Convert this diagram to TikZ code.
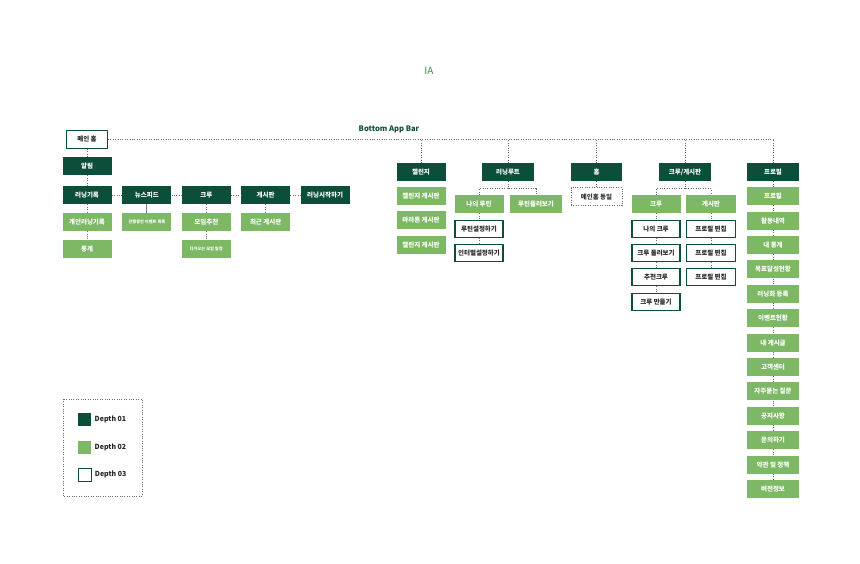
\documentclass[tikz,border=0pt]{standalone}
\usepackage{fontspec}
\setmainfont{Noto Sans CJK KR}
\usepackage{tikz}
\usetikzlibrary{positioning}
\definecolor{deepgreen}{HTML}{0B4F3B}
\definecolor{leafgreen}{HTML}{7DB965}
\definecolor{titlegreen}{HTML}{3F8F4C}

\begin{document}
\begin{tikzpicture}[
  x=1pt,y=1pt,
  box/.style={minimum width=49pt,minimum height=18pt,inner sep=1pt,font=\bfseries\fontsize{6.5}{7}\selectfont},
  dark/.style={box,fill=deepgreen,text=white},
  light/.style={box,fill=leafgreen,text=white},
  plain/.style={box,minimum width=48pt,minimum height=17pt,draw=deepgreen,line width=1.1pt,fill=white,text=black!85},
  ]
  \tikzset{%
    dotline/.style={
      draw=gray!85!black,
      line width=0.8pt,
      dash pattern=on 0.8pt off 1.6pt,
    },
    keybox/.style={
      minimum size=13pt,
      inner sep=0pt,
    },
    keytext/.style={
      font=\bfseries\fontsize{7}{8}\selectfont,
      text=black!85,
    },
  }
  \useasboundingbox (0,0) rectangle (860,-563);
  %Titles
  \node[text=titlegreen,font=\fontsize{10}{12}\selectfont](title) at (429,-71){IA};
  \node[text=deepgreen,font=\bfseries\fontsize{7.6}{9}\selectfont](appbar) at (389,-129){Bottom App Bar};
  %Nodes
  \node[plain,minimum width=41pt,minimum height=18pt](main) at (87,-139.5){메인 홈};
  \node[dark](alarm)[below=8pt of main]{알림};
  \node[dark](run)[below=10.5pt of alarm]{러닝기록};
  \node[dark](news)[right=10.5pt of run]{뉴스피드};
  \node[dark](crew)[right=10pt of news]{크루};
  \node[dark](board)[right=10pt of crew]{게시판};
  \node[dark](start)[right=10pt of board]{러닝시작하기};
  \node[light](run1)[below=8.5pt of run]{개인러닝기록};
  \node[light](run2)[below=8.5pt of run1]{통계};
  \node[light,font=\bfseries\fontsize{4.2}{5}\selectfont](news1)[below=8.5pt of news]{진행중인 이벤트 목록};
  \node[light](crew1)[below=8.5pt of crew]{모임추천};
  \node[light,font=\bfseries\fontsize{4.2}{5}\selectfont](crew2)[below=8.5pt of crew1]{다가오는 모임 일정};
  \node[light](board1)[below=8.5pt of board]{최근 게시판};

  \node[dark](chal) at (421,-172){챌린지};
  \node[light](chal1)[below=5.8pt of chal]{챌린지 게시판};
  \node[light](chal2)[below=5.8pt of chal1]{마라톤 게시판};
  \node[light](chal3)[below=5.8pt of chal2]{챌린지 게시판};

  \node[dark,minimum width=52pt](route) at (508,-172){러닝루트};
  \node[light](route1) at (479,-204){나의 루틴};
  \node[light,minimum width=52pt](route2) at (536,-204){루틴둘러보기};
  \node[plain](route11)[below=6.5pt of route1]{루틴설정하기};
  \node[plain](route12)[below=6.2pt of route11]{인터벌설정하기};

  \node[dark,minimum width=51pt](home) at (596.5,-172){홈};
  \node[box,minimum width=51pt,dotline,text=black!80](home1)[below=6pt of home]{메인홈 동일};

  \node[dark,minimum width=52pt](cb) at (685,-172){크루/게시판};
  \node[light](cb1) at (656,-204){크루};
  \node[light,minimum width=50pt](cb2) at (711,-204){게시판};
  \node[plain](cb11)[below=6.5pt of cb1]{나의 크루};
  \node[plain](cb12)[below=6.2pt of cb11]{크루 둘러보기};
  \node[plain](cb13)[below=6.2pt of cb12]{추천크루};
  \node[plain](cb14)[below=6.2pt of cb13]{크루 만들기};
  \node[plain,minimum width=49pt](cb21)[below=6.5pt of cb2]{프로필 편집};
  \node[plain,minimum width=49pt](cb22)[below=6.2pt of cb21]{프로필 편집};
  \node[plain,minimum width=49pt](cb23)[below=6.2pt of cb22]{프로필 편집};

  \node[dark,minimum width=52pt](prof) at (773,-172){프로필};
  \node[light,minimum width=52pt](prof1)[below=5.8pt of prof]{프로필};
  \node[light,minimum width=52pt](prof2)[below=6pt of prof1]{활동내역};
  \node[light,minimum width=52pt](prof3)[below=6pt of prof2]{내 통계};
  \node[light,minimum width=52pt](prof4)[below=6pt of prof3]{목표달성현황};
  \node[light,minimum width=52pt](prof5)[below=6pt of prof4]{러닝화 등록};
  \node[light,minimum width=52pt](prof6)[below=6pt of prof5]{이벤트현황};
  \node[light,minimum width=52pt](prof7)[below=6pt of prof6]{내 게시글};
  \node[light,minimum width=52pt](prof8)[below=6pt of prof7]{고객센터};
  \node[light,minimum width=52pt](prof9)[below=6pt of prof8]{자주묻는 질문};
  \node[light,minimum width=52pt](prof10)[below=6pt of prof9]{공지사항};
  \node[light,minimum width=52pt](prof11)[below=6pt of prof10]{문의하기};
  \node[light,minimum width=52pt](prof12)[below=6pt of prof11]{약관 및 정책};
  \node[light,minimum width=52pt](prof13)[below=6pt of prof12]{버전정보};

  %Legend
  \draw[dotline] (63,-399) rectangle (142,-496);
  \node[keybox,fill=deepgreen,label={[keytext]right:Depth 01}](key1) at (84.5,-419.5){};
  \node[keybox,fill=leafgreen,label={[keytext]right:Depth 02}](key2) at (84.5,-447.5){};
  \node[keybox,draw=deepgreen,line width=0.8pt,label={[keytext]right:Depth 03}](key3) at (84.5,-474.5){};

  %Lines
  \coordinate (barend) at (prof.north |- main.east);
  \draw[dotline] (main.east) -- (barend);
  \draw[dotline]
    (chal.north) -- (chal.north |- main.east)
    (route.north) -- (route.north |- main.east)
    (home.north) -- (home.north |- main.east)
    (cb.north) -- (cb.north |- main.east)
    (prof.north) -- (barend)
    ;
  \draw[dotline]
    (main) edge (alarm)
    (alarm) edge (run)
    (run) edge (news)
    (news) edge (crew)
    (crew) edge (board)
    (board) edge (start)
    (run) edge (run1)
    (run1) edge (run2)
    (crew) edge (crew1)
    (crew1) edge (crew2)
    (board) edge (board1)
    (home) edge (home1)
    (route1) edge (route11)
    (route11) edge (route12)
    (cb1) edge (cb11)
    (cb11) edge (cb12)
    (cb12) edge (cb13)
    (cb13) edge (cb14)
    (cb2) edge (cb21)
    (cb21) edge (cb22)
    (cb22) edge (cb23)
    (prof) edge (prof1)
    (prof1) edge (prof2)
    (prof2) edge (prof3)
    (prof3) edge (prof4)
    (prof4) edge (prof5)
    (prof5) edge (prof6)
    (prof6) edge (prof7)
    (prof7) edge (prof8)
    (prof8) edge (prof9)
    (prof9) edge (prof10)
    (prof10) edge (prof11)
    (prof11) edge (prof12)
    (prof12) edge (prof13)
    ;
  % forks
  \draw[dotline] (route.south) -- ++(0,-8);
  \draw[dotline] (route1.north) -- ++(0,6) -| (route2.north);
  \draw[dotline] (cb.south) -- ++(0,-8);
  \draw[dotline] (cb1.north) -- ++(0,6) -| (cb2.north);
  \draw[gray,line width=1pt] (news) -- (news1);
\end{tikzpicture}
\end{document}
